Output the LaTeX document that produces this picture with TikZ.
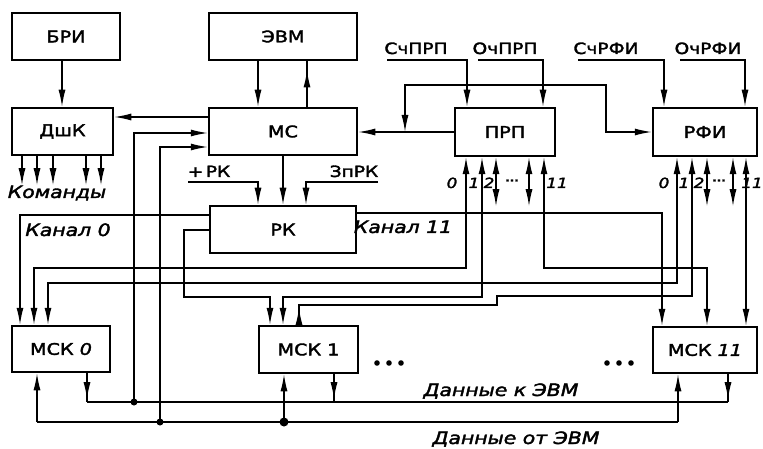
\documentclass[tikz,border=0pt]{standalone}
\usepackage{fontspec}
\setmainfont{DejaVu Sans}[FakeStretch=1.2,FakeBold=2.2]
\usetikzlibrary{arrows.meta,decorations.markings}
\begin{document}
\begin{tikzpicture}[x=1pt,y=-1pt,
  box/.style={draw,line width=2.5pt,inner sep=0pt,font=\fontsize{16}{18}\selectfont},
  wire/.style={line width=1.3pt},
  tip/.tip={Latex[length=17pt,width=7pt]},
  arr/.style={wire,-tip},
  rarr/.style={wire,tip-},
  dbl/.style={wire,tip-tip},
  marr/.style={wire,postaction={decorate},decoration={markings,mark=at position #1 with {\arrow{tip}}}},
  mrarr/.style={wire,postaction={decorate},decoration={markings,mark=at position #1 with {\arrowreversed{tip}}}},
  lbl/.style={inner sep=0pt,font=\fontsize{15.5}{17}\selectfont},
  ilbl/.style={inner sep=0pt,font=\fontsize{17}{19}\selectfont\itshape},
  num/.style={inner sep=0pt,font=\fontsize{14}{16}\selectfont\itshape},
]
\useasboundingbox (0,0) rectangle (763,449);

% boxes
\node[box,minimum width=108pt,minimum height=47pt] (bri) at (66,36.5) {БРИ};
\node[box,minimum width=148pt,minimum height=47pt] (evm) at (283,36.5) {ЭВМ};
\node[box,minimum width=101pt,minimum height=47pt] (dshk) at (62.5,131.5) {ДшК};
\node[box,minimum width=148pt,minimum height=47pt] (ms) at (283,131.5) {МС};
\node[box,minimum width=100pt,minimum height=48pt] (prp) at (505,132) {ПРП};
\node[box,minimum width=104pt,minimum height=48pt] (rfi) at (705,132) {РФИ};
\node[box,minimum width=146pt,minimum height=47pt] (rk) at (283,229.5) {РК};
\node[box,minimum width=98pt,minimum height=46pt] (msk0) at (61,349) {МСК \textit{0}};
\node[box,minimum width=99pt,minimum height=47pt] (msk1) at (308.5,349.5) {МСК 1};
\node[box,minimum width=104pt,minimum height=46pt] (msk11) at (705,350) {МСК \textit{11}};

% labels
\node[lbl,anchor=base] (lschprp) at (416,54) {СчПРП};
\node[lbl,anchor=base] (lochprp) at (505,54) {ОчПРП};
\node[lbl,anchor=base] (lschrfi) at (606,54) {СчРФИ};
\node[lbl,anchor=base] (lochrfi) at (708,54) {ОчРФИ};
\node[lbl,anchor=base] (lplusrk) at (209,177) {+\,РК};
\node[lbl,anchor=base] (lzprk) at (354,177) {ЗпРК};
\node[ilbl,anchor=base] (lkom) at (57,198) {Команды};
\node[ilbl,anchor=base] (lk0) at (68,236) {Канал 0};
\node[ilbl,anchor=base] (lk11) at (403,233) {Канал 11};
\node[ilbl,anchor=base] (ldk) at (501,396) {Данные к ЭВМ};
\node[ilbl,anchor=base] (ldo) at (516,444) {Данные от ЭВМ};

\node[num,anchor=base] (np0) at (452,188) {0};
\node[num,anchor=base] (np1) at (474,188) {1};
\node[num,anchor=base] (np2) at (489,188) {2};
\node[num,anchor=base,font=\bfseries] (npd) at (512,184) {···};
\node[num,anchor=base] (np11) at (557,188) {11};
\node[num,anchor=base] (nr0) at (664,188) {0};
\node[num,anchor=base] (nr1) at (684,188) {1};
\node[num,anchor=base] (nr2) at (699,188) {2};
\node[num,anchor=base,font=\bfseries] (nrd) at (719,184) {···};
\node[num,anchor=base] (nr11) at (752,188) {11};

% coordinates
\coordinate (k0) at (87,402);
\coordinate (k11) at (728,402);
\coordinate (o0) at (37,422);
\coordinate (o11) at (678,422);
\coordinate (jk1) at (134,402);
\coordinate (jo1) at (160,422);
\coordinate (jo2) at (284,422);
\coordinate (tap) at (405,132);

% top connections
\draw[arr] (bri.south -| 62,0) -- (dshk.north -| 62,0);
\draw[arr] (evm.south -| 258,0) -- (ms.north -| 258,0);
\draw[marr=0.8] (ms.north -| 307,0) -- (evm.south -| 307,0);
\draw[arr] (ms.west |- 0,117) -- (dshk.east |- 0,117);
\draw[arr] (jk1) -- (134,133) -- (ms.west |- 0,133);
\draw[arr] (jo1) -- (160,147) -- (ms.west |- 0,147);
\draw[arr] (prp.west) -- (ms.east |- prp.west);
\draw[dbl] (tap) -- (405,85) -- (606,85) -- (606,132) -- (rfi.west);

\draw[arr] (387,60) -| (prp.north -| 467,0);
\draw[arr] (478,60) -| (prp.north -| 543,0);
\draw[arr] (578,60) -| (rfi.north -| 664,0);
\draw[arr] (680,60) -| (rfi.north -| 745,0);

% commands
\foreach \x in {22,37,53,86,101} \draw[arr] (dshk.south -| \x,0) -- ++(0,29);

% RK inputs
\draw[arr] (188,182) -| (rk.north -| 258,0);
\draw[arr] (ms.south) -- (rk.north);
\draw[arr] (378,182) -| (rk.north -| 306,0);

% PRP / RFI outputs
\draw[dbl] (prp.south -| 466,0) -- (466,268) -| (msk0.north -| 34,0);
\draw[dbl] (prp.south -| 482,0) -- (482,297) -| (msk1.north -| 283,0);
\draw[dbl] (prp.south -| 496,0) -- ++(0,49);
\draw[dbl] (prp.south -| 529,0) -- ++(0,49);
\draw[dbl] (prp.south -| 544,0) -- (544,268) -| (msk11.north -| 707,0);
\draw[dbl] (rfi.south -| 677,0) -- (677,283) -| (msk0.north -| 48,0);
\draw[rarr,mrarr=0.97] (rfi.south -| 692,0) -- (692,296) -- (497,296) -- (497,305) -| (msk1.north -| 299,0);
\draw[dbl] (rfi.south -| 707,0) -- ++(0,49);
\draw[dbl] (rfi.south -| 733,0) -- ++(0,49);
\draw[dbl] (rfi.south -| 746,0) -- (msk11.north -| 746,0);

% RK channels
\draw[arr] (rk.west |- 0,215) -| (msk0.north -| 20,0);
\draw[arr] (rk.west |- 0,230) -- (184,230) |- (270,297) -- (msk1.north -| 270,0);
\draw[arr] (rk.east |- 0,213) -| (msk11.north -| 662,0);

% data buses
\draw[marr=0.9] (msk0.south -| 87,0) -- (k0);
\draw[wire] (k0) -- (k11);
\draw[marr=0.9] (msk1.south -| 334,0) -- (334,402);
\draw[marr=0.9] (msk11.south -| 728,0) -- (k11);
\draw[wire] (o0) -- (o11);
\draw[arr] (o0) -- (msk0.south -| 37,0);
\draw[arr] (jo2) -- (msk1.south -| 284,0);
\draw[arr] (o11) -- (msk11.south -| 678,0);
\fill (jk1) circle (3.5);
\fill (jo1) circle (3.5);
\fill (jo2) circle (4.5);

% ellipsis dots
\foreach \x in {377,389,401,607,619,631} \fill (\x,363) circle (2.8);
\end{tikzpicture}
\end{document}
